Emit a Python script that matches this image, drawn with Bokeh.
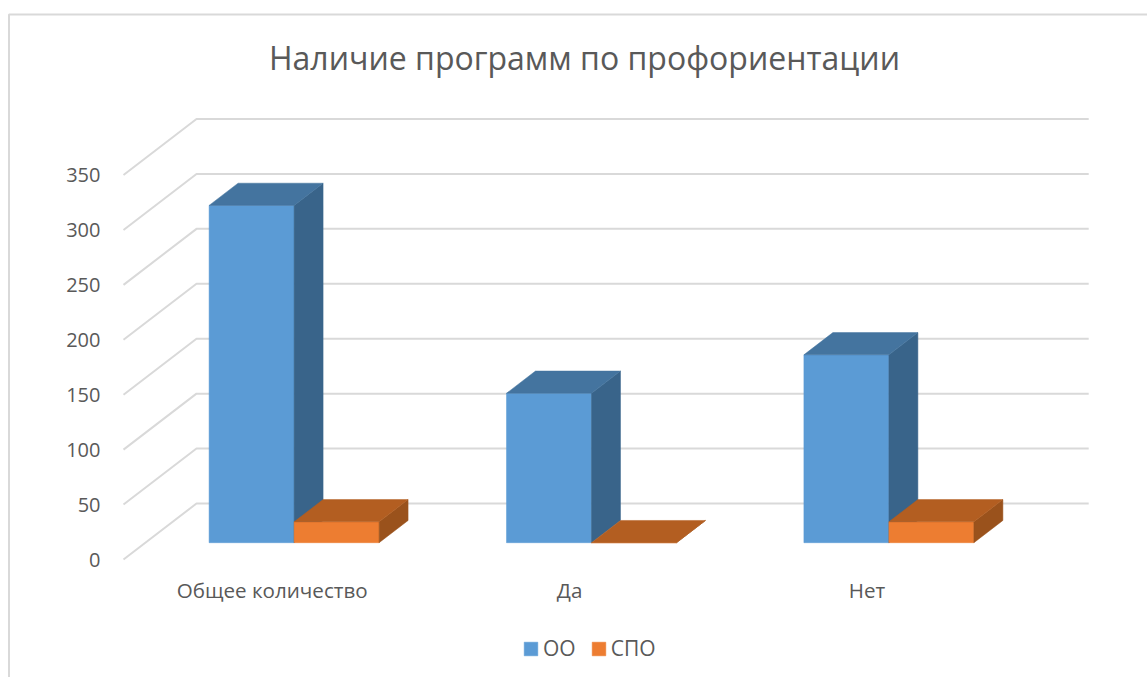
from bokeh.plotting import figure
from bokeh.models import (Range1d, LinearAxis, FixedTicker, Label, BoxAnnotation,
                          Legend, LegendItem)
from bokeh.embed import file_html
from bokeh.resources import INLINE

title_text = "Наличие программ по профориентации"
categories = ["Общее количество", "Да", "Нет"]
series_names = ["ОО", "СПО"]
oo_values = [307, 136, 171]
spo_values = [19, 0, 19]
y_ticks = [0, 50, 100, 150, 200, 250, 300, 350]

FONT = "Open Sans"
TXT = "#595959"
GRID = "#d9d9d9"
W, H = 1147, 677

# pixels per data unit on the front plane of the 3D box
PX_X, PX_Y = 297.4, 1.0986
# projection of the box depth, in data units
DEPTH_X, DEPTH_Y = 73 / PX_X, 56 / PX_Y
BAR_W = 85 / PX_X
BAR_DEPTH = 0.397
BAR_FRONT = 0.30

x_range = Range1d(-123 / PX_X, (W - 123) / PX_X)
y_range = Range1d(-(H - 559) / PX_Y, 559 / PX_Y)

p = figure(width=W, height=H, output_backend="svg", toolbar_location=None,
           x_range=x_range, y_range=y_range, x_axis_type=None, y_axis_type=None,
           min_border=0, outline_line_color=None, background_fill_color="white",
           border_fill_color="white")
p.grid.visible = False

# chart border
p.add_layout(BoxAnnotation(left=8.5, right=W + 20, top=H - 14, bottom=-20,
                           left_units="screen", right_units="screen",
                           top_units="screen", bottom_units="screen",
                           fill_alpha=0, line_color=GRID, line_alpha=1, line_width=2))

# gridlines: floor/side diagonal then back-wall segment
n = len(categories)
xs = [[0, DEPTH_X, n + DEPTH_X] for _ in y_ticks]
ys = [[v, v + DEPTH_Y, v + DEPTH_Y] for v in y_ticks]
p.multi_line(xs, ys, line_color=GRID, line_width=2)


def bars(values, left_shift, front, top, side):
    fx, fy, tx, ty, sx, sy = [], [], [], [], [], []
    ox0, oy0 = BAR_FRONT * DEPTH_X, BAR_FRONT * DEPTH_Y
    ox1, oy1 = BAR_DEPTH * DEPTH_X, BAR_DEPTH * DEPTH_Y
    for i, v in enumerate(values):
        x0 = i + 0.5 + left_shift + ox0
        x1 = x0 + BAR_W
        y0, y1 = oy0, v + oy0
        fx.append([x0, x1, x1, x0]); fy.append([y0, y0, y1, y1])
        tx.append([x0, x1, x1 + ox1, x0 + ox1]); ty.append([y1, y1, y1 + oy1, y1 + oy1])
        sx.append([x1, x1 + ox1, x1 + ox1, x1]); sy.append([y0, y0 + oy1, y1 + oy1, y1])
    r = p.patches(fx, fy, fill_color=front, line_color=front, line_width=0.5)
    p.patches(sx, sy, fill_color=side, line_color=side, line_width=0.5)
    p.patches(tx, ty, fill_color=top, line_color=top, line_width=0.5)
    return r


r_oo = bars(oo_values, -BAR_W, "#5b9bd5", "#44749f", "#39648a")
r_spo = bars(spo_values, 0, "#ed7d31", "#b35e21", "#9a521c")

# axes on the front plane
yax = LinearAxis(fixed_location=0, ticker=FixedTicker(ticks=y_ticks))
yax.axis_line_color = None
yax.major_tick_line_color = None
yax.minor_tick_line_color = None
yax.major_label_standoff = 17
yax.major_label_text_font = FONT
yax.major_label_text_font_size = "20px"
yax.major_label_text_color = TXT
p.add_layout(yax, "left")

xax = LinearAxis(fixed_location=0, ticker=FixedTicker(ticks=[i + 0.5 for i in range(n)]))
xax.major_label_overrides = {i + 0.5: c for i, c in enumerate(categories)}
xax.axis_line_color = None
xax.major_tick_line_color = None
xax.minor_tick_line_color = None
xax.major_label_standoff = 10
xax.major_label_text_font = FONT
xax.major_label_text_font_size = "20.6px"
xax.major_label_text_color = TXT
p.add_layout(xax, "below")

p.add_layout(Label(x=584, y=H - 57, x_units="screen", y_units="screen",
                   text=title_text, text_font=FONT, text_font_size="32px",
                   text_color=TXT, text_align="center", text_baseline="middle"))

legend = Legend(items=[LegendItem(label=series_names[0], renderers=[r_oo]),
                       LegendItem(label=series_names[1], renderers=[r_spo])],
                orientation="horizontal", location=(522, 15),
                glyph_width=17, glyph_height=17, label_standoff=4, spacing=14,
                padding=4, margin=0, border_line_color=None,
                background_fill_alpha=0,
                label_text_font=FONT, label_text_font_size="21px",
                label_text_color=TXT)
p.add_layout(legend, "center")

open("out.html", "w").write(file_html(p, INLINE))
